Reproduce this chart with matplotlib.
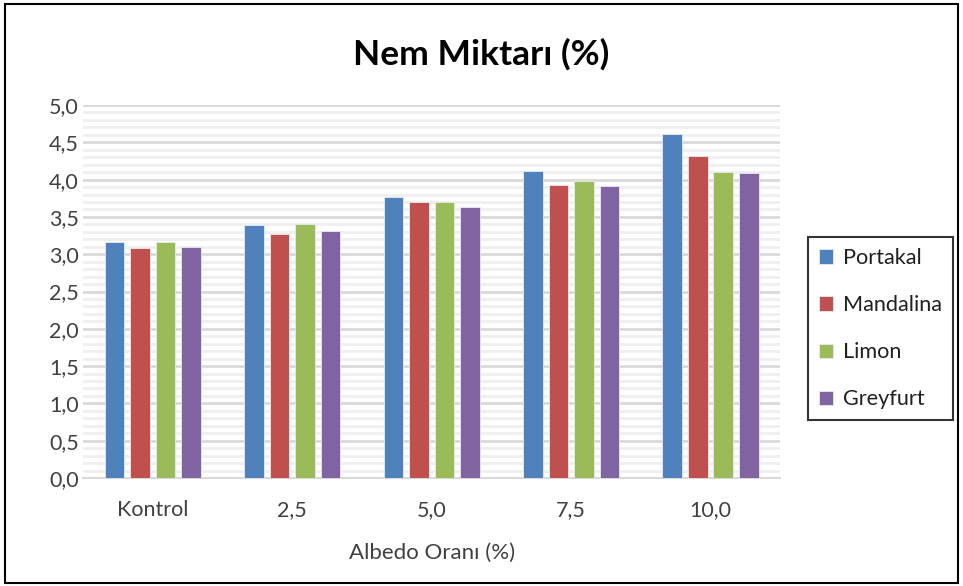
import numpy as np
import matplotlib
matplotlib.use('Agg')
import matplotlib.pyplot as plt
from matplotlib.patches import Rectangle

categories = ['Kontrol', '2,5', '5,0', '7,5', '10,0']
series_names = ['Portakal', 'Mandalina', 'Limon', 'Greyfurt']
portakal = [3.16, 3.39, 3.77, 4.12, 4.61]
mandalina = [3.08, 3.27, 3.70, 3.93, 4.32]
limon = [3.16, 3.40, 3.70, 3.98, 4.10]
greyfurt = [3.10, 3.31, 3.63, 3.91, 4.09]
colors = ['#4F81BD', '#C0504D', '#9BBB59', '#8064A2']

plt.rcParams['font.family'] = ['Lato', 'DejaVu Sans']

fig = plt.figure(figsize=(9.63, 5.86), dpi=100)
ax = fig.add_axes([0.0862, 0.1843, 0.724, 0.6365])

x = np.arange(len(categories))
pitch = 0.183
width = 0.14
all_series = [portakal, mandalina, limon, greyfurt]
for i, vals in enumerate(all_series):
    ax.bar(x + (i - 1.5) * pitch, vals, width, color=colors[i],
           edgecolor='#e6ecf4', linewidth=0.6, label=series_names[i], zorder=3)

ax.set_xlim(-0.5, 4.5)
ax.set_ylim(0, 5)
ax.set_yticks(np.arange(0, 5.01, 0.5))
ax.set_yticklabels([('%.1f' % v).replace('.', ',') for v in np.arange(0, 5.01, 0.5)])
ax.set_yticks(np.arange(0, 5.01, 0.1), minor=True)
ax.set_xticks(x)
ax.set_xticklabels(categories)

ax.grid(axis='y', which='major', color='#d9d9d9', linewidth=2, zorder=0)
ax.grid(axis='y', which='minor', color='#efefef', linewidth=2, zorder=0)
ax.tick_params(axis='both', which='both', length=0, labelsize=15.5, colors='#404040')
ax.tick_params(axis='y', pad=3)
ax.tick_params(axis='x', pad=16)
for s in ['top', 'right', 'left']:
    ax.spines[s].set_visible(False)
ax.spines['bottom'].set_color('#d9d9d9')
ax.spines['bottom'].set_linewidth(1.5)

ax.set_xlabel('Albedo Oranı (%)', fontsize=16, color='#404040', labelpad=16)
fig.text(0.5, 0.908, 'Nem Miktarı (%)', ha='center', va='center',
         fontsize=25.5, fontweight='bold', color='black')

leg = ax.legend(loc='center left', bbox_to_anchor=(1.04, 0.40), frameon=True,
                fontsize=15.6, handlelength=0.65, handleheight=0.65,
                labelspacing=1.25, borderpad=0.5, handletextpad=0.45,
                fancybox=False, borderaxespad=0)
leg.get_frame().set_edgecolor('black')
leg.get_frame().set_linewidth(1.5)
for t in leg.get_texts():
    t.set_color('#202020')

fig.patches.append(Rectangle((0.005, 0.005), 0.99, 0.988, transform=fig.transFigure,
                             fill=False, edgecolor='black', linewidth=1.5))

fig.savefig('out.png', dpi=100)
